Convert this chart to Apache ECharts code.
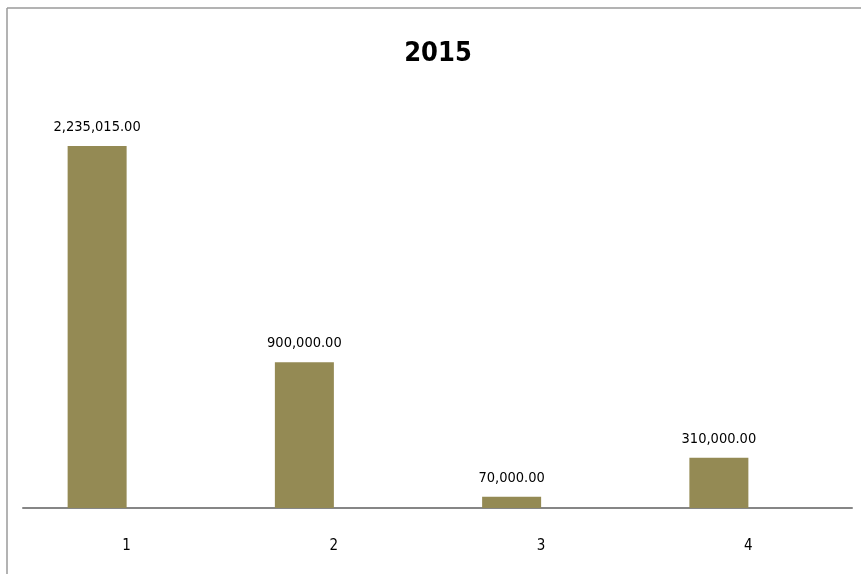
<!DOCTYPE html>
<html>
<head>
<meta charset="utf-8">
<script src="https://cdn.jsdelivr.net/npm/echarts@6/dist/echarts.min.js"></script>
<style>html,body{margin:0;padding:0;background:#fff;}#c{width:861px;height:574px;}</style>
</head>
<body>
<div id="c"></div>
<script>
var titleText = '2015';
var categories = ['1', '2', '3', '4'];
var values = [2235015, 900000, 70000, 310000];
var emptySeries = [null, null, null, null];
var FONT = "'Liberation Sans Narrow', 'DejaVu Sans Condensed', 'Noto Sans', sans-serif";

var chart = echarts.init(document.getElementById('c'), null, {renderer: 'canvas'});
chart.setOption({
  backgroundColor: '#fff',
  animation: false,
  title: {
    text: titleText, left: 433, textAlign: 'center', top: 35,
    textStyle: {fontFamily: FONT, fontSize: 27, fontWeight: 'bold', color: '#000'}
  },
  graphic: [
    {type: 'line', shape: {x1: 7, y1: 8, x2: 861, y2: 8}, style: {stroke: '#9a9a9a', lineWidth: 1.5}},
    {type: 'line', shape: {x1: 7, y1: 8, x2: 7, y2: 574}, style: {stroke: '#9a9a9a', lineWidth: 1.5}}
  ],
  grid: {left: 23, right: 9, top: 103, bottom: 66, containLabel: false},
  xAxis: {
    type: 'category', data: categories,
    axisLine: {lineStyle: {color: '#868686', width: 2}},
    axisTick: {show: false},
    axisLabel: {fontFamily: FONT, fontSize: 15, color: '#000', margin: 31}
  },
  yAxis: {type: 'value', min: 0, max: 2500000, show: false, splitLine: {show: false}},
  series: [
    {
      type: 'bar', data: values, barWidth: 59, barGap: '0%',
      itemStyle: {color: '#948A54'},
      label: {
        show: true, position: 'top', distance: 11,
        fontFamily: FONT, fontSize: 14.5, color: '#000',
        formatter: function (p) {
          return p.value.toLocaleString('en-US', {minimumFractionDigits: 2, maximumFractionDigits: 2});
        }
      }
    },
    {type: 'bar', data: emptySeries, barWidth: 59, itemStyle: {color: '#4F81BD'}}
  ]
});
</script>
</body>
</html>
